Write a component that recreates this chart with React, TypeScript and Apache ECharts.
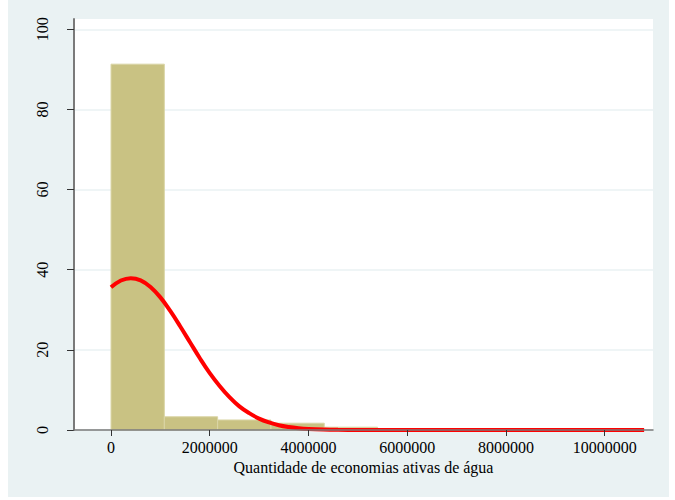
import React, { useEffect, useRef } from "react";
import * as echarts from "echarts";

// Histogram bins (x in units of economies), percent of observations
const binStarts = [0, 1080000, 2160000, 3240000, 4320000, 5400000, 6480000, 7560000, 8640000, 9720000];
const binEnds = [1080000, 2160000, 3240000, 4320000, 5400000, 6480000, 7560000, 8640000, 9720000, 10800000];
const binPercent = [91.3, 3.3, 2.5, 1.7, 0.7, 0, 0, 0, 0, 0];

// Normal density overlay
const curveX = [0, 200000, 400000, 600000, 800000, 1000000, 1200000, 1400000, 1600000, 1800000, 2000000, 2200000, 2400000, 2600000, 2800000, 3000000, 3200000, 3400000, 3600000, 3800000, 4000000, 4300000, 4600000, 5000000, 6000000, 7000000, 8000000, 9000000, 10000000, 10800000];
const curveY = [35.6, 37.3, 37.9, 37.35, 35.7, 33.1, 29.7, 25.9, 21.9, 17.9, 14.2, 11.0, 8.2, 5.9, 4.2, 2.85, 1.9, 1.2, 0.75, 0.45, 0.26, 0.11, 0.04, 0.01, 0, 0, 0, 0, 0, 0];

const xTicks = [0, 2000000, 4000000, 6000000, 8000000, 10000000];
const yTicks = [0, 20, 40, 60, 80, 100];
const xTitle = "Quantidade de economias ativas de água";

const FONT = "'Liberation Serif', 'Times New Roman', serif";

export default function App() {
  const ref = useRef<HTMLDivElement>(null);
  useEffect(() => {
    if (!ref.current) return;
    const chart = echarts.init(ref.current, null, { renderer: "svg" });
    const barData = binStarts.map((s, i) => [s, binEnds[i], binPercent[i]]);
    chart.setOption({
      animation: false,
      backgroundColor: "#EAF2F3",
      textStyle: { fontFamily: FONT },
      grid: {
        left: 66,
        right: 16,
        top: 19,
        bottom: 67,
        show: true,
        backgroundColor: "#ffffff",
        borderWidth: 0,
      },
      xAxis: {
        type: "value",
        min: -750000,
        max: 10980000,
        z: 3,
        name: xTitle,
        nameLocation: "middle",
        nameGap: 27,
        nameTextStyle: { fontFamily: FONT, fontSize: 16, color: "#000" },
        axisLine: { onZero: false, lineStyle: { color: "#7a7a7a", width: 1.5 } },
        axisTick: { customValues: xTicks, length: 6, lineStyle: { color: "#333", width: 1 } },
        axisLabel: {
          customValues: xTicks,
          fontFamily: FONT,
          fontSize: 16,
          color: "#000",
          margin: 9,
          formatter: (v: number) => String(v),
        },
        splitLine: { show: false },
      },
      yAxis: {
        type: "value",
        min: 0,
        max: 102.57,
        axisLine: { show: true, onZero: false, lineStyle: { color: "#7a7a7a", width: 2 } },
        axisTick: { show: true, customValues: yTicks, length: 7, lineStyle: { color: "#333", width: 1 } },
        axisLabel: {
          customValues: yTicks,
          rotate: 90,
          fontFamily: FONT,
          fontSize: 16,
          color: "#000",
          margin: 24,
        },
        splitLine: { show: true, lineStyle: { color: "#EAF2F3", width: 1.5 } },
      },
      series: [
        {
          type: "custom",
          z: 1,
          data: barData,
          encode: { x: [0, 1], y: 2 },
          renderItem: (params: any, api: any) => {
            const x0 = api.value(0);
            const x1 = api.value(1);
            const y = api.value(2);
            const p0 = api.coord([x0, y]);
            const p1 = api.coord([x1, 0]);
            return {
              type: "rect",
              shape: { x: p0[0], y: p0[1], width: p1[0] - p0[0], height: p1[1] - p0[1] },
              style: { fill: "#C9C283", stroke: "#DAD5A6", lineWidth: 1 },
            };
          },
        },
        {
          type: "line",
          z: 2,
          data: curveX.map((x, i) => [x, curveY[i]]),
          smooth: 0.4,
          showSymbol: false,
          symbol: "none",
          lineStyle: { color: "#FF0000", width: 4 },
        },
      ],
    });
    return () => chart.dispose();
  }, []);
  return (
    <div
      ref={ref}
      style={{ position: "absolute", left: 8, top: 0, width: 661, height: 497 }}
    />
  );
}
